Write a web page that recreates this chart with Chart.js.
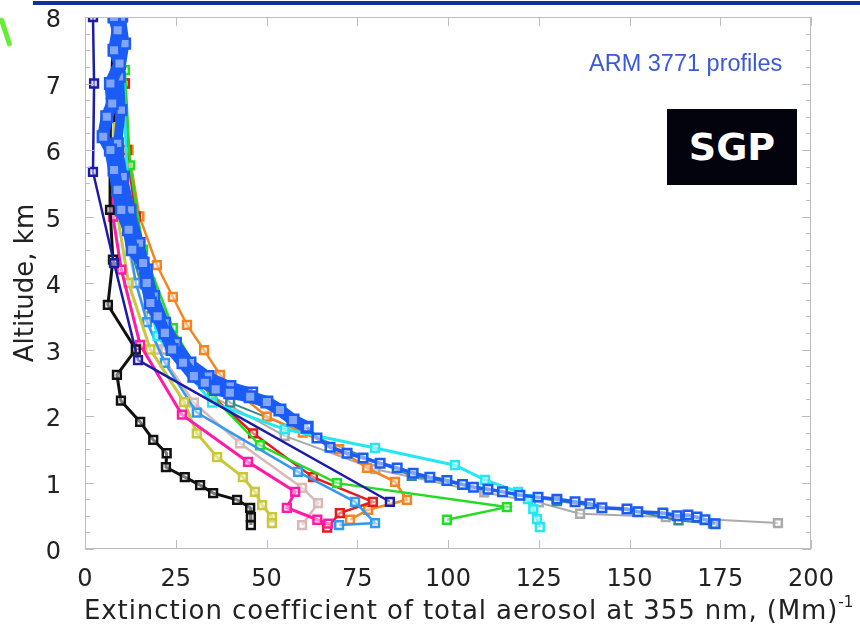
<!DOCTYPE html>
<html lang="en">
	<head>
		<meta charset="UTF-8" />
		<script src="https://cdn.jsdelivr.net/npm/chart.js@4.4.0/dist/chart.umd.min.js"></script>
		<title>SGP aerosol extinction profiles</title>
		<style>
			html, body { margin: 0; padding: 0; background: #fff; }
			#wrap { position: relative; width: 860px; height: 634px; overflow: hidden; }
			#topline { position: absolute; left: 33px; top: 1px; width: 827px; height: 4px; background: #0c3399; }
			#greenbit { position: absolute; left: 3px; top: 17px; width: 5px; height: 30px; background: #66ee33; transform: rotate(-18deg); border-radius: 3px; }
			#arm { position: absolute; left: 589px; top: 50px; font: 500 23.5px "Liberation Sans", Arial, sans-serif; color: #3a5ad6; }
			#sgp { position: absolute; left: 667px; top: 109px; width: 130px; height: 76px; background: #02030d; color: #fff;
				font: bold 38px "Comic Sans MS", "DejaVu Sans", sans-serif; text-align: center; line-height: 76px; }
			#xtitle { position: absolute; left: 84px; top: 595px; white-space: nowrap;
				font: 26px "DejaVu Sans", sans-serif; letter-spacing: 0.9px; color: #222; }
			#xtitle sup { font-size: 15px; letter-spacing: 0; vertical-align: 12px; line-height: 0; }
		</style>
	</head>
	<body>
		<div id="wrap">
			<canvas id="chart" width="860" height="634"></canvas>
			<div id="topline"></div>
			<div id="greenbit"></div>
			<div id="arm">ARM 3771 profiles</div>
			<div id="sgp">SGP</div>
			<div id="xtitle">Extinction coefficient of total aerosol at 355 nm, (Mm)<sup>-1</sup></div>
		</div>
		<script>
			const xTicks = [0, 25, 50, 75, 100, 125, 150, 175, 200];
			const yTicks = [0, 1, 2, 3, 4, 5, 6, 7, 8];

			// [extinction (Mm^-1), altitude (km)]
			const black = [[8, 8], [7, 6.5], [6.9, 5.1], [7.7, 4.35], [6.3, 3.67], [14, 3.0], [8.8, 2.62], [9.9, 2.23], [15.2, 1.91], [18.8, 1.64], [22.5, 1.44], [22.3, 1.23], [27.5, 1.08], [31.7, 0.96], [35.3, 0.84], [41.9, 0.74], [45.5, 0.62], [45.7, 0.48], [45.7, 0.36]];
			const navy = [[2.2, 8], [2.5, 7], [2.2, 5.67], [8, 4.3], [14.6, 2.84], [84, 0.71]];
			const magenta = [[7, 6], [7.7, 5.0], [10, 4.2], [15.2, 3.07], [26.7, 2.02], [44.9, 1.31], [57.9, 0.86], [55.6, 0.62], [64, 0.44], [67, 0.38]];
			const olive = [[8, 8], [8, 6], [9, 5], [12, 4], [18, 3.0], [27.3, 2.21], [30.8, 1.74], [36.4, 1.38], [43.5, 1.08], [46.8, 0.86], [48.8, 0.66], [51.5, 0.48], [51.5, 0.39]];
			const orange = [[10, 8], [11, 7], [12, 6], [15, 5], [19.8, 4.27], [24.2, 3.79], [28.1, 3.37], [32.8, 2.99], [37.2, 2.62], [42.1, 2.35], [50.1, 1.99], [60, 1.75], [70, 1.5], [77.7, 1.22], [85.4, 1.01], [88.7, 0.74], [78, 0.59], [73, 0.44]];
			const green = [[10, 8], [11, 7.2], [12.4, 5.77], [16, 4.5], [24.2, 3.32], [35, 2.3], [48.2, 1.56], [69.4, 0.99], [116.2, 0.63], [99.7, 0.44]];
			const red = [[10.5, 8], [11, 7], [11.5, 6], [14, 5], [18, 4], [25, 3], [35, 2.3], [46.3, 1.74], [62.8, 1.08], [79.3, 0.71], [70.2, 0.54], [66.7, 0.32]];
			const rose = [[8, 8], [8, 6], [10, 5], [14, 4], [20, 3], [30, 2.2], [42.7, 1.59], [59.8, 0.92], [64.2, 0.69], [59.8, 0.36]];
			const sky = [[8, 8], [9, 6], [11, 5], [14, 4], [17.1, 3.41], [22, 2.8], [30.8, 2.05], [58.7, 1.16], [74.4, 0.71], [79.9, 0.39], [70, 0.36]];
			const cyan = [[10, 8], [12, 5], [20, 3.2], [35, 2.2], [55, 1.8], [79.9, 1.52], [101.9, 1.26], [110.2, 1.04], [119.3, 0.86], [122, 0.75], [123.5, 0.6], [124.5, 0.45], [125.3, 0.33]];
			const gray = [[8, 8], [9, 6], [12, 5], [16, 4], [22, 3], [35, 2.3], [55, 1.7], [80, 1.2], [110, 0.85], [125, 0.7], [136.4, 0.53], [160, 0.48], [190.9, 0.39]];
			const teal = [[9, 8], [10, 5], [18, 3.5], [40, 2.2], [90, 1.1], [130, 0.72], [152.3, 0.56], [163.5, 0.43], [173, 0.38]];
			const blueBand = [[8, 8], [9, 7.8], [8, 7.5], [9.5, 7.3], [7, 7], [7.5, 6.7], [6, 6.5], [5, 6.2], [7, 6], [8, 5.7], [9, 5.4], [10, 5.1], [12, 4.8], [13, 4.5], [16, 4.3], [17, 4], [18, 3.7], [20, 3.5], [22, 3.25], [24, 3.0], [27, 2.8], [30, 2.6], [33, 2.5], [36, 2.4], [39.9, 2.35], [45.5, 2.29], [50.1, 2.21], [53.7, 2.09], [57.3, 1.94], [61.2, 1.83]];
			const blueBand2 = [[10, 8], [11, 7.6], [9.5, 7.1], [10, 6.6], [9, 6.1], [10.5, 5.6], [12.5, 5.1], [15, 4.6], [17, 4.2], [19, 3.8], [22, 3.4], [25, 3.1], [29, 2.8], [34, 2.6], [40, 2.45], [46, 2.35]];
			const blueTail = [[61.2, 1.83], [63.9, 1.67], [67.5, 1.53], [72.2, 1.44], [76.6, 1.37], [81.3, 1.29], [86, 1.22], [90.4, 1.14], [95, 1.08], [99.7, 1.03], [104, 0.97], [107, 0.93], [111, 0.9], [115, 0.86], [119.8, 0.81], [124.8, 0.78], [130, 0.75], [135, 0.71], [139.1, 0.68], [142.4, 0.62], [149.3, 0.6], [152.3, 0.56], [159.2, 0.54], [163.1, 0.5], [166.1, 0.51], [168.6, 0.48], [170.8, 0.44], [173.6, 0.38]];

			const blue = '#1a5cf5';
			const series = [
				// first one is drawn on top
				{ data: blueTail, color: blue, width: 3.5, r: 6 },
				{ data: blueBand, color: blue, width: 12, r: 7.5 },
				{ data: blueBand2, color: blue, width: 9, r: 7 },
				{ data: navy, color: '#1c1ca8', width: 2.5, r: 5.5 },
				{ data: black, color: '#111111', width: 3, r: 5.5 },
				{ data: magenta, color: '#ff1aa8', width: 3, r: 5.5 },
				{ data: olive, color: '#c8c83a', width: 3, r: 5.5 },
				{ data: cyan, color: '#22e8f0', width: 3, r: 5.5 },
				{ data: sky, color: '#3399ee', width: 2.5, r: 5.5 },
				{ data: green, color: '#22dd22', width: 2.5, r: 5.5 },
				{ data: red, color: '#e31c1c', width: 2.5, r: 5.5 },
				{ data: orange, color: '#f5841f', width: 2.5, r: 5.5 },
				{ data: rose, color: '#d8b8b8', width: 2.5, r: 5.5 },
				{ data: teal, color: '#3a8a8a', width: 2, r: 5.5 },
				{ data: gray, color: '#aaaaaa', width: 2, r: 5.5 }
			];

			const tickFont = { family: 'DejaVu Sans', size: 24 };

			// inward tick marks + frame, IDL style
			const frame = {
				id: 'frame',
				afterDraw(chart) {
					const { ctx, chartArea: a, scales: { x, y } } = chart;
					ctx.save();
					ctx.strokeStyle = '#bdbdbd';
					ctx.lineWidth = 1;
					ctx.strokeRect(a.left + 0.5, a.top + 0.5, a.right - a.left - 1, a.bottom - a.top - 1);
					ctx.beginPath();
					xTicks.forEach((v) => {
						const px = Math.round(x.getPixelForValue(v)) + 0.5;
						ctx.moveTo(px, a.bottom); ctx.lineTo(px, a.bottom - 9);
						ctx.moveTo(px, a.top); ctx.lineTo(px, a.top + 9);
					});
					for (let v = 0; v <= 8; v += 0.25) {
						const py = Math.round(y.getPixelForValue(v)) + 0.5;
						const len = v % 1 === 0 ? 9 : 5;
						ctx.moveTo(a.left, py); ctx.lineTo(a.left + len, py);
						ctx.moveTo(a.right, py); ctx.lineTo(a.right - len, py);
					}
					ctx.stroke();
					ctx.restore();
				}
			};

			new Chart(document.getElementById('chart'), {
				type: 'scatter',
				data: {
					datasets: series.map((s) => ({
						data: s.data.map(([x, y]) => ({ x, y })),
						showLine: true,
						borderColor: s.color,
						borderWidth: s.width,
						pointStyle: 'rect',
						pointRadius: s.r,
						pointBorderWidth: 2.5,
						pointBorderColor: s.color,
						pointBackgroundColor: 'rgba(255,255,255,0.45)',
						tension: 0
					}))
				},
				options: {
					responsive: false,
					animation: false,
					events: [],
					layout: { padding: { top: 17, right: 49, left: 0, bottom: 0 } },
					plugins: { legend: { display: false }, tooltip: { enabled: false } },
					scales: {
						x: {
							type: 'linear', min: 0, max: 200,
							afterBuildTicks: (s) => { s.ticks = xTicks.map((v) => ({ value: v })); },
							afterFit: (s) => { s.height = 85; s.paddingLeft = 0; s.paddingRight = 0; },
							grid: { display: false, drawTicks: false },
							border: { display: false },
							ticks: { font: tickFont, color: '#222', padding: 16, maxRotation: 0 }
						},
						y: {
							type: 'linear', min: 0, max: 8,
							afterBuildTicks: (s) => { s.ticks = yTicks.map((v) => ({ value: v })); },
							afterFit: (s) => { s.width = 85; s.paddingTop = 0; s.paddingBottom = 0; },
							grid: { display: false, drawTicks: false },
							border: { display: false },
							ticks: { font: tickFont, color: '#222', padding: 24, labelOffset: 4 },
							title: {
								display: true,
								text: 'Altitude, km',
								font: { family: 'DejaVu Sans', size: 26 },
								color: '#222',
								padding: { top: 11, bottom: 0 }
							}
						}
					}
				},
				plugins: [frame]
			});
		</script>
	</body>
</html>
